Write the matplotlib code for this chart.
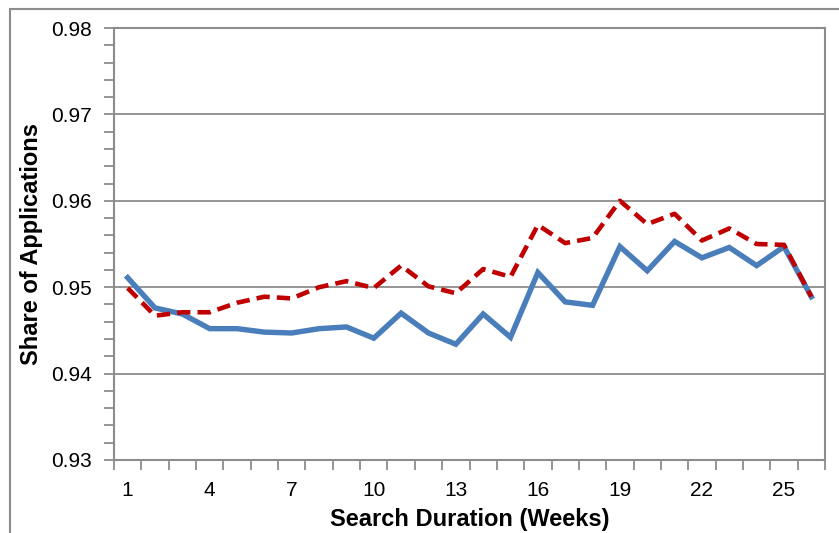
"""Share of applications by search duration (weeks), two series."""

import matplotlib
matplotlib.use("Agg")
import matplotlib.pyplot as plt
import numpy as np
from matplotlib.patches import Rectangle
from matplotlib.ticker import MultipleLocator

plt.rcParams["font.family"] = ["Liberation Sans", "DejaVu Sans"]

weeks = list(range(1, 27))
blue_share = [0.9511, 0.9476, 0.9469, 0.9452, 0.9452, 0.9448, 0.9447, 0.9452, 0.9454,
              0.9441, 0.9470, 0.9447, 0.9434, 0.9469, 0.9442, 0.9517, 0.9483, 0.9479,
              0.9547, 0.9519, 0.9553, 0.9534, 0.9546, 0.9525, 0.9547, 0.9489]
red_share = [0.9499, 0.9467, 0.9471, 0.9471, 0.9482, 0.9489, 0.9487, 0.9500, 0.9507,
             0.9499, 0.9525, 0.9501, 0.9493, 0.9521, 0.9512, 0.9572, 0.9551, 0.9557,
             0.9600, 0.9573, 0.9585, 0.9554, 0.9568, 0.9550, 0.9549, 0.9489]
x_tick_labels = ["1", "4", "7", "10", "13", "16", "19", "22", "25"]

GRAY = "#8c8c8c"

fig = plt.figure(figsize=(8.39, 5.33), dpi=100)
# outer chart frame, cut off on the right and bottom
fig.patches.append(Rectangle((10 / 839, -0.1), 1.0, 1 - 9 / 533 + 0.1,
                             transform=fig.transFigure, fill=False,
                             edgecolor=GRAY, linewidth=1.5))

ax = fig.add_axes([114 / 839, 1 - 460 / 533, 711 / 839, 432 / 533])

ax.plot(weeks, blue_share, color="#4a7ebb", linewidth=3.9, solid_joinstyle="miter", zorder=3)
ax.plot(weeks, red_share, color="#c00000", linewidth=3.3, linestyle=(0, (2.9, 1.55)),
        dash_capstyle="butt", zorder=4)

ax.set_xlim(0.5, 26.5)
ax.set_ylim(0.93, 0.98)
ax.yaxis.set_major_locator(MultipleLocator(0.01))
ax.yaxis.set_minor_locator(MultipleLocator(0.002))
ax.yaxis.set_major_formatter(matplotlib.ticker.FormatStrFormatter("%.2f"))
ax.grid(axis="y", which="major", color=GRAY, linewidth=1.3)
ax.set_axisbelow(True)

# category axis: ticks on boundaries, labels every third week
ax.set_xticks(np.arange(0.5, 27, 1.0))
ax.set_xticklabels([])
ax.set_xticks([int(t) for t in x_tick_labels], minor=True)
ax.set_xticklabels(x_tick_labels, minor=True)
ax.tick_params(axis="x", which="major", direction="out", length=7, width=1.3, color=GRAY)
ax.tick_params(axis="x", which="minor", length=0, pad=15, labelsize=15)
ax.tick_params(axis="y", which="major", direction="out", length=7, width=1.3, color=GRAY,
               labelsize=15, pad=9)
ax.tick_params(axis="y", which="minor", direction="out", length=7, width=1.3, color=GRAY)

for side in ["left", "right", "top", "bottom"]:
    ax.spines[side].set_color(GRAY)
    ax.spines[side].set_linewidth(1.5)

ax.set_xlabel("Search Duration (Weeks)", fontsize=17, fontweight="bold", labelpad=6)
ax.set_ylabel("Share of Applications", fontsize=17, fontweight="bold", labelpad=6)

fig.savefig("out.png", dpi=100)
